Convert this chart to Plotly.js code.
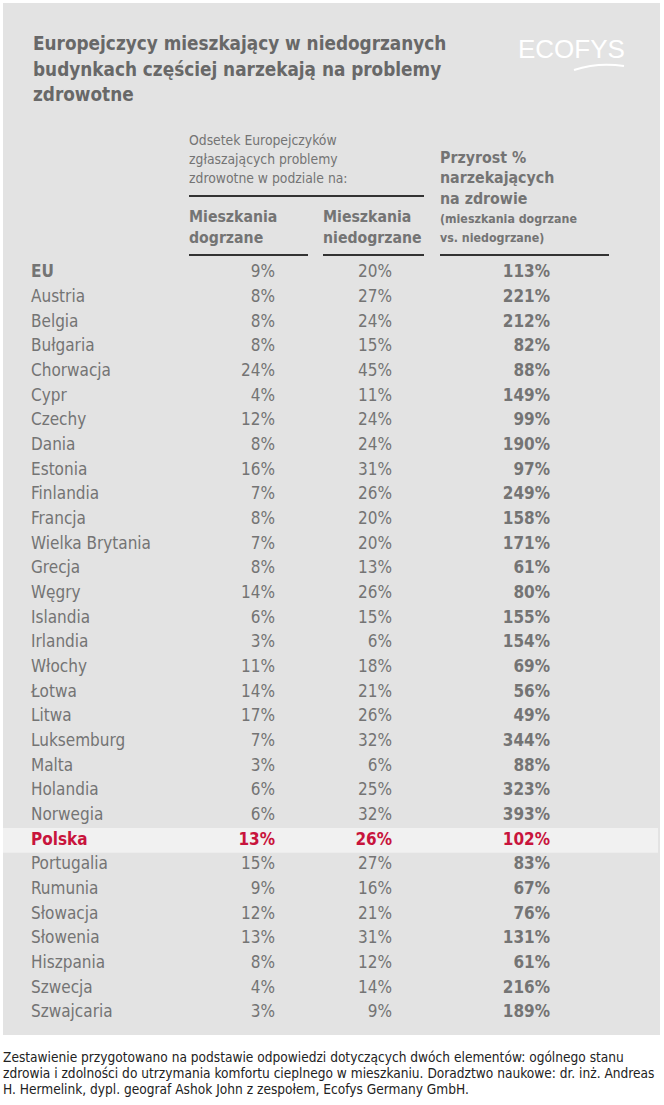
<!DOCTYPE html>
<html><head><meta charset="utf-8">
<script src="https://cdn.plot.ly/plotly-3.0.1.min.js"></script>
<style>html,body{margin:0;padding:0;background:#fff}</style></head>
<body><div id="chart" style="width:664px;height:1105px"></div>
<script>
const countries = ['EU','Austria','Belgia','Bułgaria','Chorwacja','Cypr','Czechy','Dania','Estonia','Finlandia','Francja','Wielka Brytania','Grecja','Węgry','Islandia','Irlandia','Włochy','Łotwa','Litwa','Luksemburg','Malta','Holandia','Norwegia','Polska','Portugalia','Rumunia','Słowacja','Słowenia','Hiszpania','Szwecja','Szwajcaria'];
const heated = [9,8,8,8,24,4,12,8,16,7,8,7,8,14,6,3,11,14,17,7,3,6,6,13,15,9,12,13,8,4,3];
const underheated = [20,27,24,15,45,11,24,24,31,26,20,20,13,26,15,6,18,21,26,32,6,25,32,26,27,16,21,31,12,14,9];
const increase = [113,221,212,82,88,149,99,190,97,249,158,171,61,80,155,154,69,56,49,344,88,323,393,102,83,67,76,131,61,216,189];
const highlight = 'Polska';
const boldNames = ['EU','Polska'];

const titleLines = ['Europejczycy mieszkający w niedogrzanych','budynkach częściej narzekają na problemy','zdrowotne'];
const groupHeader = ['Odsetek Europejczyków','zgłaszających problemy','zdrowotne w podziale na:'];
const col1Header = ['Mieszkania','dogrzane'];
const col2Header = ['Mieszkania','niedogrzane'];
const col3Header = ['Przyrost %','narzekających','na zdrowie'];
const col3Sub = ['(mieszkania dogrzane','vs. niedogrzane)'];
const footerLines = ['Zestawienie przygotowano na podstawie odpowiedzi dotyczących dwóch elementów: ogólnego stanu','zdrowia i zdolności do utrzymania komfortu cieplnego w mieszkaniu. Doradztwo naukowe: dr. inż. Andreas','H. Hermelink, dypl. geograf Ashok John z zespołem, Ecofys Germany GmbH.'];
const logoText = 'ECOFYS';

const W = 664, H = 1105;
const FONT = '"DejaVu Sans Condensed", "Liberation Sans Narrow", "Liberation Sans", sans-serif';
const GRAY = '#747474', RED = '#c8143c', TITLE = '#686868', DARK = '#222222';
const ROW0 = 273, STEP = 24.667;
const px = x => x / W, py = y => 1 - y / H;

const isHi = c => c === highlight;
const colColors = countries.map(c => isHi(c) ? RED : GRAY);
function textTrace(xpos, texts, pos) {
  return {type:'scatter', mode:'text', x: countries.map(() => xpos), y: countries,
    text: texts, textposition: pos, cliponaxis:false, hoverinfo:'skip', showlegend:false,
    textfont:{family:FONT, size:17, color:colColors}};
}
const data = [
  textTrace(31, countries.map(c => boldNames.includes(c) ? '<b>'+c+'</b>' : c), 'middle right'),
  textTrace(275, heated.map((v,i) => isHi(countries[i]) ? '<b>'+v+'%</b>' : v+'%'), 'middle left'),
  textTrace(392, underheated.map((v,i) => isHi(countries[i]) ? '<b>'+v+'%</b>' : v+'%'), 'middle left'),
  textTrace(550, increase.map(v => '<b>'+v+'%</b>'), 'middle left')
];

const ann = [];
function addLines(lines, x, y0, dy, size, color, bold) {
  lines.forEach((t, i) => ann.push({xref:'paper', yref:'paper', x:px(x), y:py(y0 + i*dy), xanchor:'left', yanchor:'middle',
    showarrow:false, align:'left', text: bold ? '<b>'+t+'</b>' : t, font:{family:FONT, size:size, color:color}}));
}
addLines(titleLines, 31, 44, 25, 18.8, TITLE, true);
addLines(groupHeader, 187, 140, 19, 13.8, GRAY, false);
addLines(col1Header, 187, 217, 20, 15.7, GRAY, true);
addLines(col2Header, 321, 217, 20, 15.7, GRAY, true);
addLines(col3Header, 438, 158, 20, 15.8, GRAY, true);
addLines(col3Sub, 438, 219, 19, 12.3, GRAY, true);
addLines(footerLines, 1, 1057, 16, 13.6, DARK, false);
ann.push({xref:'paper', yref:'paper', x:px(571), y:py(49), xanchor:'center', yanchor:'middle', showarrow:false,
  text:logoText, font:{family:'"Liberation Sans", sans-serif', size:26, color:'#ffffff'}});

const hiIdx = countries.indexOf(highlight);
const shapes = [
  {type:'rect', layer:'below', xref:'paper', yref:'paper', x0:px(3), x1:px(660), y0:py(3), y1:py(1035), fillcolor:'#e3e3e3', line:{width:0}},
  {type:'rect', layer:'below', xref:'paper', yref:'y', x0:px(3), x1:px(658), y0:hiIdx-0.5, y1:hiIdx+0.5, fillcolor:'#f1f1f1', line:{width:0}},
  {type:'line', xref:'paper', yref:'paper', x0:px(189), x1:px(424), y0:py(196), y1:py(196), line:{color:'#333', width:2}},
  {type:'line', xref:'paper', yref:'paper', x0:px(189), x1:px(308), y0:py(255), y1:py(255), line:{color:'#333', width:2}},
  {type:'line', xref:'paper', yref:'paper', x0:px(323), x1:px(424), y0:py(255), y1:py(255), line:{color:'#333', width:2}},
  {type:'line', xref:'paper', yref:'paper', x0:px(440), x1:px(609), y0:py(255), y1:py(255), line:{color:'#333', width:2}},
  {type:'path', xref:'paper', yref:'paper', path:'M '+px(574)+' '+py(70)+' Q '+px(598)+' '+py(62)+' '+px(624)+' '+py(66),
    line:{color:'#ffffff', width:2}}
];

const layout = {
  width:W, height:H, margin:{l:0,r:0,t:0,b:0}, paper_bgcolor:'#ffffff', plot_bgcolor:'rgba(0,0,0,0)',
  xaxis:{range:[0,W], visible:false, fixedrange:true},
  yaxis:{type:'category', range:[(H-ROW0)/STEP, -ROW0/STEP], visible:false, fixedrange:true},
  annotations:ann, shapes:shapes, showlegend:false
};
Plotly.newPlot('chart', data, layout, {staticPlot:true, displayModeBar:false});
</script></body></html>
